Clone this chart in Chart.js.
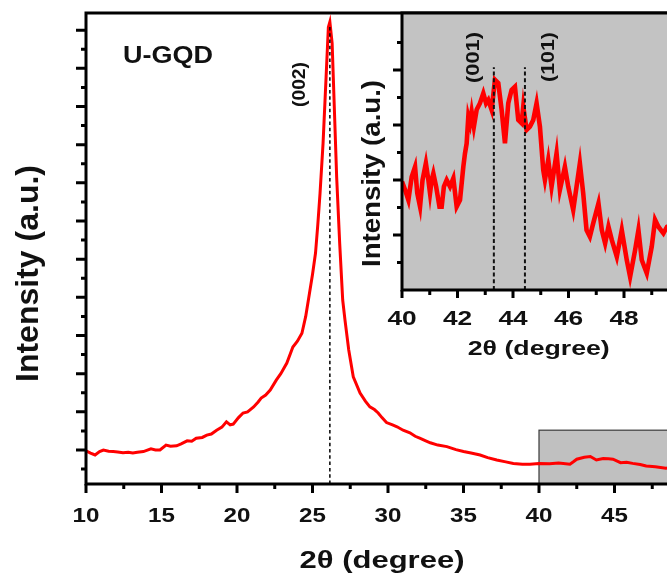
<!DOCTYPE html>
<html>
<head>
<meta charset="utf-8">
<script src="https://cdn.jsdelivr.net/npm/chart.js@4.4.1/dist/chart.umd.min.js"></script>
<style>
    html, body { margin: 0; padding: 0; background: #fff; overflow: hidden; width: 667px; height: 579px; }
    #wrap { position: relative; width: 700px; height: 579px; }
    #mainChart { position: absolute; left: 0; top: 0; }
    #insetChart { position: absolute; left: 340px; top: 0; }
</style>
</head>
<body>
<div id="wrap">
    <canvas id="mainChart" width="700" height="579"></canvas>
    <canvas id="insetChart" width="350" height="380"></canvas>
</div>
<script>
// main XRD pattern, 2theta (deg) vs intensity (a.u.)
const mainAngle = [
    10.0, 10.3, 10.6, 10.9, 11.15, 11.5, 11.8, 12.1, 12.45, 12.8,
    13.1, 13.4, 13.8, 14.3, 14.6, 14.9, 15.3, 15.6, 16.0, 16.3,
    16.7, 17.0, 17.3, 17.7, 18.0, 18.3, 18.65, 19.0, 19.3, 19.55,
    19.75, 20.1, 20.4, 20.7, 21.1, 21.4, 21.6, 21.9, 22.2, 22.6,
    22.9, 23.3, 23.7, 24.0, 24.3, 24.55, 24.8, 25.0, 25.2, 25.35,
    25.5, 25.7, 25.9, 26.05, 26.15, 26.3, 26.45, 26.6, 26.8, 27.0,
    27.15, 27.4, 27.7, 28.15, 28.5, 28.8, 29.1, 29.35, 29.6, 29.9,
    30.3, 30.6, 31.0, 31.45, 31.8, 32.1, 32.5, 32.8, 33.3, 33.9,
    34.5, 35.0, 35.5, 36.1, 36.6, 37.2, 37.8, 38.3, 38.9, 39.4,
    40.0, 40.7, 41.3, 42.05, 42.3, 42.5, 43.0, 43.4, 43.8, 44.25,
    44.6, 44.9, 45.4, 45.8, 46.2, 46.7, 47.1, 47.7, 48.4, 49.0,
    49.5, 50.0
];
const mainIntensity = [
    98, 92, 87, 96, 100, 97, 96, 95, 93, 94,
    92, 94, 96, 103, 100, 100, 113, 110, 111, 116,
    124, 123, 131, 133, 139, 142, 152, 160, 174, 166,
    168, 185, 197, 200, 213, 226, 236, 244, 257, 283,
    300, 328, 370, 385, 406, 450, 511, 560, 616, 690,
    773, 904, 1077, 1208, 1222, 1166, 991, 815, 642, 493,
    441, 362, 292, 249, 228, 213, 206, 197, 185, 172,
    166, 161, 152, 145, 136, 131, 124, 119, 113, 109,
    101, 96, 92, 87, 80, 74, 69, 65, 63, 63,
    65, 64, 66, 63, 70, 76, 81, 83, 74, 78,
    77, 76, 67, 68, 65, 62, 58, 56, 52, 55,
    58, 57
];

// inset: zoom of 40-50 degrees
const insetAngle = [
    40.00, 40.11, 40.23, 40.35, 40.47, 40.55, 40.65, 40.74, 40.86, 40.95,
    41.01, 41.07, 41.13, 41.23, 41.35, 41.43, 41.51, 41.61, 41.73, 41.85,
    41.97, 42.09, 42.21, 42.27, 42.33, 42.39, 42.45, 42.51, 42.59, 42.69,
    42.81, 42.93, 43.03, 43.11, 43.23, 43.35, 43.47, 43.59, 43.71, 43.83,
    43.95, 44.07, 44.19, 44.31, 44.37, 44.49, 44.61, 44.73, 44.85, 44.97,
    45.09, 45.15, 45.27, 45.39, 45.57, 45.69, 45.87, 45.99, 46.17, 46.29,
    46.41, 46.53, 46.65, 46.77, 46.89, 47.08, 47.20, 47.32, 47.44, 47.56,
    47.74, 47.92, 48.10, 48.22, 48.40, 48.52, 48.64, 48.82, 49.00, 49.12,
    49.24, 49.42, 49.55, 49.8
];
const insetIntensity = [
    39.4, 36.4, 32.7, 41.2, 44.8, 35.2, 30.3, 40.0, 46.1, 40.0,
    35.2, 40.0, 42.4, 37.6, 30.3, 30.3, 37.6, 40.0, 37.6, 40.6,
    30.3, 32.7, 44.8, 49.7, 53.3, 63.0, 60.6, 64.8, 59.4, 65.5,
    67.9, 71.5, 67.9, 69.1, 65.5, 76.4, 75.2, 65.5, 53.3, 67.9,
    72.7, 73.9, 61.8, 60.6, 66.7, 58.2, 59.4, 61.8, 67.9, 59.4,
    43.6, 40.0, 47.3, 37.6, 49.7, 36.4, 44.8, 37.6, 29.1, 37.6,
    46.1, 35.2, 21.8, 19.4, 24.2, 31.5, 21.8, 17.0, 23.0, 18.2,
    12.1, 21.8, 10.9, 4.8, 14.5, 21.8, 10.9, 6.1, 15.8, 25.5,
    23.0, 20.6, 23.0, 24.0
];

// peak markers
const mainPeakAngle = 26.15;
const mainPeakTop = 1215;
const insetPeakAngles = [43.31, 44.43];
const insetPeakTop = 81;

// ticks and tick labels
const mainXMajor = [10, 15, 20, 25, 30, 35, 40, 45, 50];
const mainXMinor = [12.5, 17.5, 22.5, 27.5, 32.5, 37.5, 42.5, 47.5];
const mainXLabels = ['10', '15', '20', '25', '30', '35', '40', '45'];
const mainYMajor = [100, 200, 300, 400, 500, 600, 700, 800, 900, 1000, 1100, 1200];
const mainYMinor = [50, 150, 250, 350, 450, 550, 650, 750, 850, 950, 1050, 1150];
const insetXMajor = [40, 42, 44, 46, 48, 50];
const insetXMinor = [41, 43, 45, 47, 49];
const insetXLabels = ['40', '42', '44', '46', '48'];
const insetYMajor = [20, 40, 60, 80];
const insetYMinor = [10, 30, 50, 70, 90];

const zoomRange = [40, 50];
const zoomBoxTop = 152;

const FONT = '"Liberation Sans", Arial, sans-serif';

function drawText(ctx, text, x, y, size, opts) {
    ctx.save();
    ctx.font = 'bold ' + size + 'px ' + FONT;
    ctx.fillStyle = '#111';
    ctx.translate(x, y);
    if (opts.rotate) ctx.rotate(-Math.PI / 2);
    let sx = opts.sx || 1;
    if (opts.len) sx = opts.len / ctx.measureText(text).width;
    ctx.scale(sx, 1);
    ctx.textAlign = opts.align || 'center';
    ctx.textBaseline = opts.baseline || 'alphabetic';
    ctx.fillText(text, 0, 0);
    ctx.restore();
}

function tickMarks(ctx, scale, values, len, isX) {
    ctx.beginPath();
    values.forEach(function (v) {
        const p = scale.getPixelForValue(v);
        if (isX) { ctx.moveTo(p, scale.top); ctx.lineTo(p, scale.top + len); }
        else { ctx.moveTo(scale.right, p); ctx.lineTo(scale.right - len, p); }
    });
    ctx.stroke();
}

function drawFrame(ctx, area) {
    ctx.beginPath();
    ctx.moveTo(area.left, area.top - 1.5);
    ctx.lineTo(area.left, area.bottom + 1.5);
    ctx.moveTo(area.left - 1.5, area.bottom);
    ctx.lineTo(area.right, area.bottom);
    ctx.moveTo(area.left - 1.5, area.top);
    ctx.lineTo(area.right, area.top);
    ctx.lineTo(area.right, area.bottom);
    ctx.stroke();
}

const mainDecor = {
    id: 'mainDecor',
    beforeDatasetsDraw(chart) {
        const { ctx, scales: { x, y } } = chart;
        const l = x.getPixelForValue(zoomRange[0]);
        const r = x.getPixelForValue(zoomRange[1]);
        const t = y.getPixelForValue(zoomBoxTop);
        const b = y.getPixelForValue(y.min);
        ctx.save();
        ctx.fillStyle = '#c0c0c0';
        ctx.fillRect(l, t, r - l, b - t);
        ctx.strokeStyle = '#3a3a3a';
        ctx.lineWidth = 1.2;
        ctx.strokeRect(l, t, r - l, b - t);
        ctx.restore();
    },
    afterDatasetsDraw(chart) {
        const { ctx, chartArea, scales: { x, y } } = chart;
        ctx.save();
        ctx.strokeStyle = '#000';
        ctx.lineWidth = 3;
        drawFrame(ctx, chartArea);
        tickMarks(ctx, x, mainXMajor, 9, true);
        tickMarks(ctx, x, mainXMinor, 5, true);
        tickMarks(ctx, y, mainYMajor, 10, false);
        tickMarks(ctx, y, mainYMinor, 5, false);
        ctx.restore();

        mainXLabels.forEach(function (t) {
            drawText(ctx, t, x.getPixelForValue(Number(t)), 521.5, 21, { sx: 1.15 });
        });
        drawText(ctx, '2\u03b8 (degree)', (x.left + x.right) / 2 - 6, 568, 23, { len: 165 });
        drawText(ctx, 'Intensity (a.u.)', 38, 273.5, 32, { rotate: true, len: 217 });
        drawText(ctx, 'U-GQD', 123, 63.3, 23, { align: 'left', len: 90 });
        drawText(ctx, '(002)', 300, 84.5, 19, { rotate: true, baseline: 'middle', len: 45 });
    }
};

const insetDecor = {
    id: 'insetDecor',
    beforeDatasetsDraw(chart) {
        const { ctx, chartArea } = chart;
        ctx.save();
        ctx.fillStyle = '#c3c3c3';
        ctx.fillRect(chartArea.left, chartArea.top, chartArea.right - chartArea.left, chartArea.bottom - chartArea.top);
        ctx.restore();
    },
    afterDatasetsDraw(chart) {
        const { ctx, chartArea, scales: { x, y } } = chart;
        ctx.save();
        ctx.strokeStyle = '#000';
        ctx.lineWidth = 3;
        drawFrame(ctx, chartArea);
        tickMarks(ctx, x, insetXMajor, 8, true);
        tickMarks(ctx, x, insetXMinor, 5, true);
        tickMarks(ctx, y, insetYMajor, 9, false);
        tickMarks(ctx, y, insetYMinor, 5, false);
        ctx.restore();

        insetXLabels.forEach(function (t) {
            drawText(ctx, t, x.getPixelForValue(Number(t)), 325, 21, { sx: 1.25 });
        });
        drawText(ctx, '2\u03b8 (degree)', (x.left + x.right) / 2 - 2, 355, 21, { len: 142 });
        drawText(ctx, 'Intensity (a.u.)', 40, 173.5, 25, { rotate: true, len: 187 });
        drawText(ctx, '(001)', 134, 57.5, 18, { rotate: true, baseline: 'middle', len: 51 });
        drawText(ctx, '(101)', 209, 57, 18, { rotate: true, baseline: 'middle', len: 50 });
    }
};

const mainSeries = mainAngle.map(function (a, i) { return { x: a, y: mainIntensity[i] }; });
const insetSeries = insetAngle.map(function (a, i) { return { x: a, y: insetIntensity[i] }; });

new Chart(document.getElementById('mainChart'), {
    type: 'line',
    data: {
        datasets: [
            {
                data: [{ x: mainPeakAngle, y: 11 }, { x: mainPeakAngle, y: mainPeakTop }],
                borderColor: '#000', borderWidth: 1.5, borderDash: [3.5, 2.8], pointRadius: 0
            },
            {
                data: mainSeries,
                borderColor: '#ff0000', borderWidth: 3, pointRadius: 0, tension: 0
            }
        ]
    },
    options: {
        responsive: false,
        animation: false,
        devicePixelRatio: 1,
        events: [],
        layout: { padding: { left: 0, top: 13, right: 10, bottom: 0 } },
        plugins: { legend: { display: false }, tooltip: { enabled: false } },
        scales: {
            x: {
                type: 'linear', min: 10, max: 50,
                ticks: { display: false, stepSize: 5 },
                grid: { display: false }, border: { display: false },
                afterFit: function (s) { s.height = 95; }
            },
            y: {
                min: 11, max: 1245,
                ticks: { display: false },
                grid: { display: false }, border: { display: false },
                afterFit: function (s) { s.width = 86; }
            }
        }
    },
    plugins: [mainDecor]
});

const insetDatasets = insetPeakAngles.map(function (a) {
    return {
        data: [{ x: a, y: 0 }, { x: a, y: insetPeakTop }],
        borderColor: '#111', borderWidth: 2, borderDash: [4, 2.7], pointRadius: 0
    };
});
insetDatasets.push({
    data: insetSeries,
    borderColor: '#ff0000', borderWidth: 4.6, pointRadius: 0, tension: 0
});

new Chart(document.getElementById('insetChart'), {
    type: 'line',
    data: { datasets: insetDatasets },
    options: {
        responsive: false,
        animation: false,
        devicePixelRatio: 1,
        events: [],
        layout: { padding: { left: 0, top: 13, right: 10.5, bottom: 0 } },
        plugins: { legend: { display: false }, tooltip: { enabled: false } },
        scales: {
            x: {
                type: 'linear', min: 40, max: 50,
                ticks: { display: false },
                grid: { display: false }, border: { display: false },
                afterFit: function (s) { s.height = 90; }
            },
            y: {
                min: 0, max: 100.7,
                ticks: { display: false },
                grid: { display: false }, border: { display: false },
                afterFit: function (s) { s.width = 62; }
            }
        }
    },
    plugins: [insetDecor]
});
</script>
</body>
</html>
